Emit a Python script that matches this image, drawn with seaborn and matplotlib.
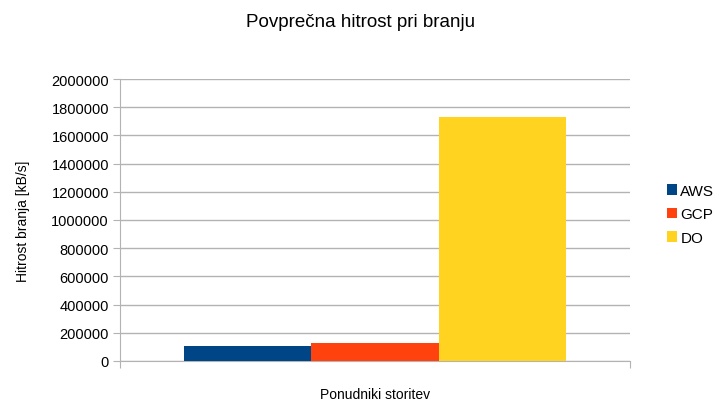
import pandas as pd
import matplotlib
matplotlib.use("Agg")
import matplotlib.pyplot as plt
import matplotlib.ticker as mticker
import seaborn as sns

# data
providers = ["AWS", "GCP", "DO"]
speeds = [104000, 125500, 1731000]
colors = ["#004586", "#FF420E", "#FFD320"]

df = pd.DataFrame({"grp": [""] * 3, "provider": providers, "speed": speeds})

sns.set_style("white")
plt.rcParams["font.family"] = ["Liberation Sans", "DejaVu Sans"]
plt.rcParams["text.color"] = "black"
plt.rcParams["axes.labelcolor"] = "black"
plt.rcParams["ytick.labelcolor"] = "black"

fig = plt.figure(figsize=(7.2, 4.02), dpi=100)
ax = fig.add_axes([120 / 720, 40 / 402, 510 / 720, 282 / 402])

sns.barplot(data=df, x="grp", y="speed", hue="provider", palette=colors,
            width=0.75, saturation=1, linewidth=0, ax=ax, zorder=3)

ax.set_ylim(0, 2000000)
ax.set_yticks(range(0, 2000001, 200000))
ax.yaxis.set_major_formatter(mticker.FuncFormatter(lambda v, p: f"{int(v)}"))
ax.set_xlim(-0.5, 0.5)
ax.set_xticks([-0.5, 0.5])
ax.set_xticklabels([])
ax.yaxis.grid(True, color="#b3b3b3", linewidth=1, zorder=0)
for s in ax.spines.values():
    s.set_color("#b3b3b3")
ax.spines["top"].set_visible(False)
ax.spines["right"].set_visible(False)
ax.tick_params(axis="y", length=5, color="#b3b3b3", labelsize=10.5, pad=3,
               left=True, labelcolor="black")
ax.tick_params(axis="x", length=5, color="#b3b3b3", bottom=True)

ax.set_ylabel("Hitrost branja [kB/s]", fontsize=10, labelpad=15)
ax.set_xlabel("Ponudniki storitev", fontsize=10)
ax.xaxis.set_label_coords(0.5, -0.093)
fig.suptitle("Povprečna hitrost pri branju", fontsize=13.5, y=0.965)

ax.legend(loc="center left", bbox_to_anchor=(1.045, 0.52), frameon=False,
          fontsize=11, handlelength=0.7, handleheight=0.7, handletextpad=0.2,
          labelspacing=0.6)

fig.savefig("out.png", dpi=100)
